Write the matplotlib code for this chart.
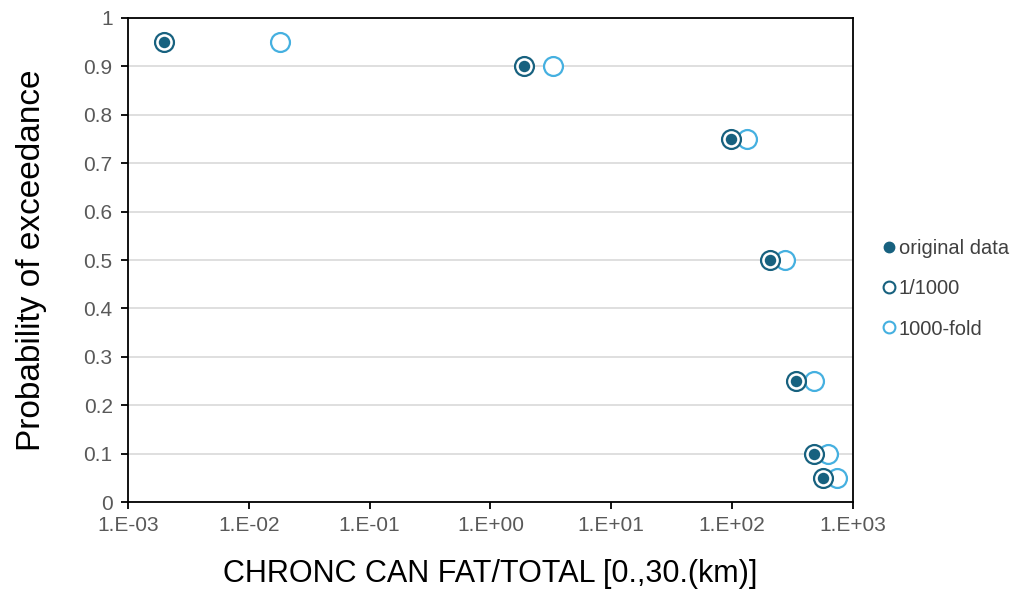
import matplotlib
matplotlib.use("Agg")
import matplotlib.pyplot as plt
from matplotlib.ticker import FixedLocator, NullLocator
from matplotlib.lines import Line2D

plt.rcParams['font.family'] = ['Liberation Sans', 'DejaVu Sans']

prob = [0.95, 0.9, 0.75, 0.5, 0.25, 0.1, 0.05]
original = [2.0e-3, 1.9, 98, 204, 339, 478, 565]
one_thousandth = [2.0e-3, 1.9, 98, 204, 339, 478, 565]
thousand_fold = [1.8e-2, 3.3, 133, 274, 478, 620, 740]

xticks = [1e-3, 1e-2, 1e-1, 1e0, 1e1, 1e2, 1e3]
xticklabels = ["1.E-03", "1.E-02", "1.E-01", "1.E+00", "1.E+01", "1.E+02", "1.E+03"]
yticks = [0, 0.1, 0.2, 0.3, 0.4, 0.5, 0.6, 0.7, 0.8, 0.9, 1]
yticklabels = ["0", "0.1", "0.2", "0.3", "0.4", "0.5", "0.6", "0.7", "0.8", "0.9", "1"]

dark = "#17617f"
light = "#45b0e0"

fig = plt.figure(figsize=(10.22, 5.92), dpi=100)
ax = fig.add_axes([0.1252, 0.152, 0.7094, 0.8176])

ax.scatter(thousand_fold, prob, s=185, facecolors="white", edgecolors=light, linewidths=1.6, zorder=3)
ax.scatter(one_thousandth, prob, s=185, facecolors="white", edgecolors=dark, linewidths=1.6, zorder=4)
ax.scatter(original, prob, s=68, facecolors=dark, edgecolors=dark, linewidths=0, zorder=5)

ax.set_xscale("log")
ax.set_xlim(1e-3, 1e3)
ax.set_ylim(0, 1)
ax.xaxis.set_major_locator(FixedLocator(xticks))
ax.xaxis.set_minor_locator(NullLocator())
ax.set_xticklabels(xticklabels)
ax.set_yticks(yticks)
ax.set_yticklabels(yticklabels)

ax.yaxis.grid(True, color="#d9d9d9", linewidth=1.2)
ax.set_axisbelow(True)
for sp in ax.spines.values():
    sp.set_color("black")
    sp.set_linewidth(1.3)
ax.tick_params(axis="both", direction="out", length=5, width=1.3, color="black",
               labelcolor="#595959", labelsize=15)
ax.tick_params(axis="x", pad=5)
ax.tick_params(axis="y", pad=6)

ax.set_xlabel("CHRONC CAN FAT/TOTAL [0.,30.(km)]", fontsize=22, color="black", labelpad=17)
ax.set_ylabel("Probability of exceedance", fontsize=24, color="black", labelpad=26)

handles = [
    Line2D([], [], marker="o", linestyle="none", markersize=7.5, markerfacecolor=dark, markeredgecolor=dark),
    Line2D([], [], marker="o", linestyle="none", markersize=8.5, markerfacecolor="white", markeredgecolor=dark, markeredgewidth=1.5),
    Line2D([], [], marker="o", linestyle="none", markersize=8.5, markerfacecolor="white", markeredgecolor=light, markeredgewidth=1.5),
]
leg = fig.legend(handles, ["original data", "1/1000", "1000-fold"], loc="center left",
                 bbox_to_anchor=(0.842, 0.512), frameon=False, fontsize=14.5,
                 handletextpad=0.0, handlelength=1.0, labelspacing=1.05, labelcolor="#404040")

fig.savefig("out.png", dpi=100)
